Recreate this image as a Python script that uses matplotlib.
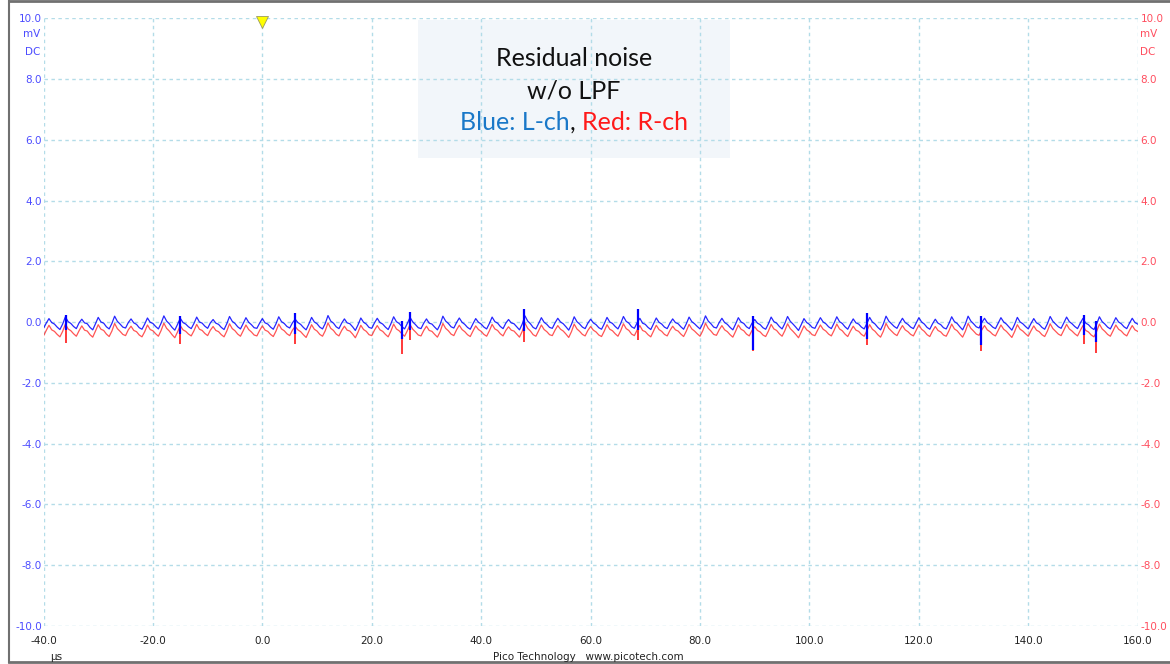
import numpy as np
import matplotlib
matplotlib.use("Agg")
import matplotlib.pyplot as plt
from matplotlib.lines import Line2D
from matplotlib.patches import Rectangle
from matplotlib.offsetbox import TextArea, HPacker, AnnotationBbox

# time axis: -40 .. 160 us, one sample every 0.5 us
t_start, t_step = -40.0, 0.5

# L-ch (blue), hundredths of mV
l_ch = [
    -20, -3, 12, -1, -6, -16, -24, -6, 18, 2, -4, -14,
    -21, -2, 10, -2, -5, -17, -25, -5, 16, 1, -3, -15,
    -22, -4, 20, 3, -6, -16, -19, -1, 11, -2, -7, -18,
    -23, -6, 14, 0, -4, -14, -22, -3, 21, 4, -5, -17,
    -26, -7, 13, -1, -6, -15, -21, -4, 17, 1, -3, -13,
    -20, -2, 9, -3, -7, -17, -24, -5, 19, 3, -4, -15,
    -22, -4, 15, 0, -8, -18, -20, -3, 12, -2, -6, -16,
    -23, -5, 18, 2, -4, -14, -19, -2, 10, -1, -7, -17,
    -25, -6, 16, 1, -5, -16, -22, -4, 22, 4, -3, -15,
    -21, -3, 11, -2, -5, -15, -27, -8, 14, 0, -6, -17,
    -20, -2, 13, -1, -6, -16, -24, -5, 18, 2, -4, -14,
    -22, -4, 16, 1, -8, -18, -21, -3, 11, -3, -6, -16,
    -25, -7, 20, 4, -4, -15, -19, -1, 14, 0, -7, -17,
    -23, -5, 12, 0, -6, -16, -22, -4, 17, 2, -3, -14,
    -21, -3, 9, -2, -5, -15, -25, -6, 21, 4, -5, -17,
    -22, -4, 15, 0, -7, -17, -20, -2, 13, 1, -5, -15,
    -26, -7, 18, 2, -6, -16, -21, -3, 10, -2, -8, -18,
    -23, -5, 16, 1, -4, -14, -22, -4, 19, 3, -3, -15,
    -20, -2, 13, -3, -7, -17, -24, -5, 14, 0, -6, -16,
    -21, -3, 11, -1, -5, -15, -23, -5, 17, 2, -5, -14,
    -22, -4, 21, 4, -5, -16, -19, -1, 13, -1, -7, -17,
    -25, -6, 15, 1, -4, -15, -21, -3, 9, -3, -8, -18,
    -23, -5, 17, 2, -3, -14, -22, -4, 19, 3, -6, -16,
    -27, -8, 12, -1, -7, -17, -20, -2, 15, 1, -5, -15,
    -21, -3, 18, 2, -4, -15, -23, -5, 11, -2, -6, -16,
    -22, -4, 16, 1, -6, -17, -25, -6, 20, 4, -5, -14,
    -20, -2, 13, -1, -7, -16, -21, -3, 15, 1, -6, -17,
    -23, -5, 10, -3, -8, -18, -22, -4, 18, 2, -4, -15,
    -25, -6, 20, 4, -5, -15, -19, -1, 13, -1, -7, -16,
    -21, -3, 15, 1, -6, -16, -26, -7, 16, 1, -5, -14,
    -22, -4, 12, -2, -7, -17, -23, -5, 19, 3, -6, -15,
    -20, -2, 17, 2, -5, -14, -21, -3, 13, -3, -8, -18,
    -24, -6, 18, 2, -6, -16, -22, -4, 15, 1, -5, -15,
    -21, -3, 13, -1, -6,
]

# R-ch (red), hundredths of mV
r_ch = [
    -45, -27, -10, -25, -30, -40, -48, -30, -6, -22, -28, -38,
    -46, -28, -12, -26, -29, -41, -49, -29, -8, -23, -27, -39,
    -47, -29, -4, -21, -30, -40, -44, -25, -13, -27, -31, -42,
    -48, -31, -9, -24, -28, -38, -46, -27, -3, -20, -29, -41,
    -51, -32, -11, -25, -30, -39, -45, -28, -7, -23, -27, -37,
    -44, -26, -14, -27, -31, -41, -48, -29, -5, -21, -28, -39,
    -46, -28, -9, -24, -32, -42, -45, -27, -12, -26, -30, -40,
    -47, -29, -6, -22, -28, -38, -44, -26, -14, -25, -31, -41,
    -50, -30, -8, -23, -29, -40, -46, -28, -2, -20, -27, -39,
    -45, -27, -13, -26, -29, -39, -51, -32, -10, -24, -30, -41,
    -44, -26, -11, -25, -30, -40, -48, -29, -6, -22, -28, -38,
    -46, -28, -8, -23, -32, -42, -45, -27, -13, -27, -30, -40,
    -49, -31, -4, -20, -28, -39, -44, -25, -10, -24, -31, -41,
    -47, -29, -12, -24, -30, -40, -46, -28, -7, -22, -27, -38,
    -45, -27, -15, -26, -29, -39, -49, -30, -3, -20, -29, -41,
    -46, -28, -9, -24, -31, -41, -44, -26, -11, -23, -29, -39,
    -50, -31, -6, -22, -30, -40, -45, -27, -14, -26, -32, -42,
    -47, -29, -8, -23, -28, -38, -46, -28, -5, -21, -27, -39,
    -44, -26, -11, -27, -31, -41, -48, -29, -10, -24, -30, -40,
    -45, -27, -13, -25, -29, -39, -47, -29, -7, -22, -29, -38,
    -46, -28, -3, -20, -29, -40, -43, -25, -11, -25, -31, -41,
    -49, -30, -9, -23, -28, -39, -45, -27, -15, -27, -32, -42,
    -47, -29, -7, -22, -27, -38, -46, -28, -5, -21, -30, -40,
    -51, -32, -12, -25, -31, -41, -44, -26, -9, -23, -29, -39,
    -45, -27, -6, -22, -28, -39, -47, -29, -13, -26, -30, -40,
    -46, -28, -8, -23, -30, -41, -49, -30, -4, -20, -29, -38,
    -44, -26, -11, -25, -31, -40, -45, -27, -9, -23, -30, -41,
    -47, -29, -14, -27, -32, -42, -46, -28, -6, -22, -28, -39,
    -49, -30, -4, -20, -29, -39, -43, -25, -11, -25, -31, -40,
    -45, -27, -9, -23, -30, -40, -50, -31, -8, -23, -29, -38,
    -46, -28, -12, -26, -31, -41, -47, -29, -5, -21, -30, -39,
    -44, -26, -7, -22, -29, -38, -45, -27, -11, -27, -32, -42,
    -48, -30, -6, -22, -30, -40, -46, -28, -9, -23, -29, -39,
    -45, -27, -11, -25, -30,
]

# glitches (us) and their extents (mV)
spike_t = [-35.8, -15.0, 6.0, 25.5, 27.0, 47.9, 68.7, 89.7, 110.6, 131.4, 150.1, 152.3]
l_spike_top = [0.25, 0.20, 0.30, 0.05, 0.35, 0.45, 0.42, 0.20, 0.32, 0.20, 0.25, 0.05]
l_spike_bot = [-0.25, -0.40, -0.40, -0.55, -0.25, -0.30, -0.25, -0.90, -0.55, -0.75, -0.43, -0.65]
r_spike_bot = [-0.68, -0.72, -0.70, -1.05, -0.60, -0.65, -0.60, -0.95, -0.75, -0.95, -0.73, -1.00]

x_ticks = [-40, -20, 0, 20, 40, 60, 80, 100, 120, 140, 160]
y_ticks = [-10, -8, -6, -4, -2, 0, 2, 4, 6, 8, 10]

BLUE = "#0000ff"
RED = "#ff2a2a"
LEFT_LBL = "#4b4bff"
RIGHT_LBL = "#ff4d5e"
GRID = "#b3dce8"

t = t_start + t_step * np.arange(len(l_ch))
l_mv = np.array(l_ch) / 100.0
r_mv = np.array(r_ch) / 100.0

W, H = 1170, 664
fig = plt.figure(figsize=(W / 100, H / 100), dpi=100)
fig.patch.set_facecolor("white")
ax = fig.add_axes([43.5 / W, 1 - 626 / H, (1137.7 - 43.5) / W, (626 - 18.5) / H])
ax.set_xlim(-40, 160)
ax.set_ylim(-10, 10)
for s in ax.spines.values():
    s.set_visible(False)

ax.set_xticks(x_ticks)
ax.set_yticks(y_ticks)
ax.set_xticklabels(["%.1f" % v for v in x_ticks])
ax.set_yticklabels(["%.1f" % v for v in y_ticks])
ax.tick_params(axis="both", length=0, labelsize=7.5)
ax.tick_params(axis="x", pad=7, labelcolor="#222222")
ax.tick_params(axis="y", pad=1, labelcolor=LEFT_LBL)
ax.grid(True, color=GRID, lw=1.0, linestyle=(0, (2.5, 2.5)))

# right axis labels (R-ch)
ax2 = ax.twinx()
ax2.set_ylim(-10, 10)
ax2.set_yticks(y_ticks)
ax2.set_yticklabels(["%.1f" % v for v in y_ticks])
ax2.tick_params(axis="y", length=0, pad=2, labelsize=7.5, labelcolor=RIGHT_LBL)
for s in ax2.spines.values():
    s.set_visible(False)

# unit labels
ax.text(-0.003, 0.975, "mV", transform=ax.transAxes, ha="right", va="center", fontsize=7.5, color=LEFT_LBL)
ax.text(-0.003, 0.945, "DC", transform=ax.transAxes, ha="right", va="center", fontsize=7.5, color=LEFT_LBL)
ax.text(1.002, 0.975, "mV", transform=ax.transAxes, ha="left", va="center", fontsize=7.5, color=RIGHT_LBL)
ax.text(1.002, 0.945, "DC", transform=ax.transAxes, ha="left", va="center", fontsize=7.5, color=RIGHT_LBL)

# annotation box
ax.add_patch(Rectangle((0.342, 0.770), 0.285, 0.2275, transform=ax.transAxes,
                       facecolor="#f2f6fa", edgecolor="none", zorder=0.5))
tfont = "Lato"
tsize = 18
ax.text(574, H - 59, "Residual noise", transform=None, ha="center", va="center",
        fontsize=tsize, family=tfont, color="#111111", zorder=3)
ax.text(574, H - 91, "w/o LPF", transform=None, ha="center", va="center",
        fontsize=tsize, family=tfont, color="#111111", zorder=3)
parts = [
    TextArea("Blue: L-ch", textprops=dict(color="#1a78c8", fontsize=tsize, family=tfont)),
    TextArea(", ", textprops=dict(color="#111111", fontsize=tsize, family=tfont)),
    TextArea("Red: R-ch", textprops=dict(color="#ff1a1a", fontsize=tsize, family=tfont)),
]
row = HPacker(children=parts, align="baseline", pad=0, sep=0)
ab = AnnotationBbox(row, (574, H - 123), xycoords="figure pixels", frameon=False,
                    box_alignment=(0.5, 0.5), zorder=3)
ax.add_artist(ab)

# traces
ax.plot(t, r_mv, color=RED, lw=0.9, alpha=0.8, zorder=2)
ax.vlines(spike_t, r_spike_bot, l_spike_bot, color=RED, lw=1.3, zorder=2)
ax.plot(t, l_mv, color=BLUE, lw=0.9, alpha=0.85, zorder=2.1)
ax.vlines(spike_t, l_spike_bot, l_spike_top, color=BLUE, lw=1.6, zorder=2.1)

# trigger marker
ax.plot([0], [9.9], marker="v", markersize=9, color="#ffff00", markeredgecolor="#9a9a60",
        markeredgewidth=0.6, clip_on=False, zorder=4)

# footer
fig.text(50 / W, 1 - 657 / H, "µs", ha="left", va="center", fontsize=7.5, color="#222222")
fig.text(588 / W, 1 - 657 / H, "Pico Technology   www.picotech.com", ha="center", va="center",
         fontsize=7.5, color="#222222")

# window frame
fc = "#707070"
fig.add_artist(Line2D([9 / W, 1], [1 - 1 / H, 1 - 1 / H], color=fc, lw=2))
fig.add_artist(Line2D([9 / W, 9 / W], [1 - 1 / H, 1 - 662 / H], color=fc, lw=1.5))
fig.add_artist(Line2D([9 / W, 1], [1 - 662 / H, 1 - 662 / H], color=fc, lw=2))

fig.savefig("out.png", dpi=100)
